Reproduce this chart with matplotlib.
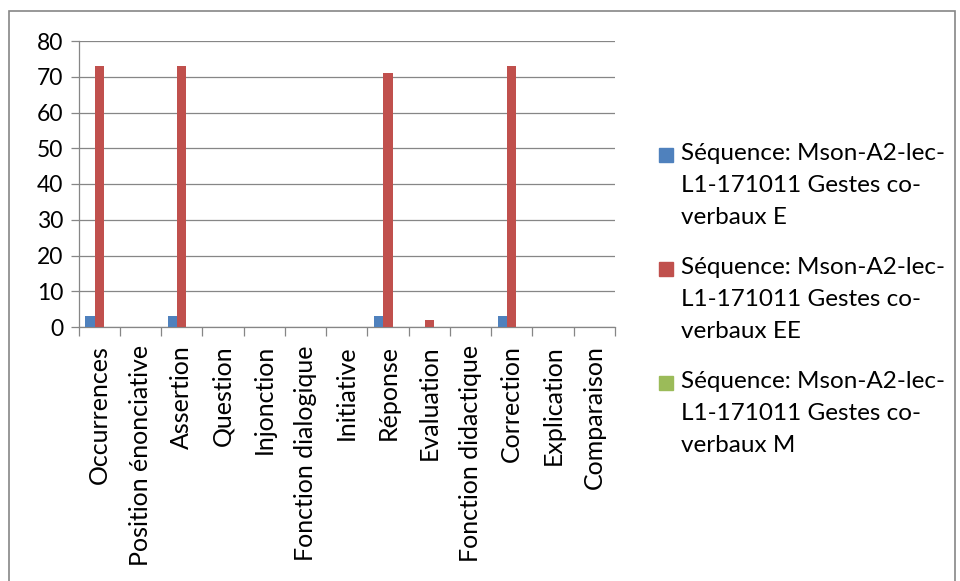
import matplotlib.pyplot as plt
from matplotlib.patches import Rectangle
from matplotlib.ticker import FixedLocator
import numpy as np

plt.rcParams['font.family'] = ['Lato', 'DejaVu Sans']

# Categories and series values
categories = ["Occurrences", "Position énonciative", "Assertion", "Question", "Injonction",
              "Fonction dialogique", "Initiative", "Réponse", "Evaluation",
              "Fonction didactique", "Correction", "Explication", "Comparaison"]
serie_e = [3, 0, 3, 0, 0, 0, 0, 3, 0, 0, 3, 0, 0]
serie_ee = [73, 0, 73, 0, 0, 0, 0, 71, 2, 0, 73, 0, 0]
serie_m = [0, 0, 0, 0, 0, 0, 0, 0, 0, 0, 0, 0, 0]
labels = ["Séquence: Mson-A2-lec-\nL1-171011 Gestes co-\nverbaux E",
          "Séquence: Mson-A2-lec-\nL1-171011 Gestes co-\nverbaux EE",
          "Séquence: Mson-A2-lec-\nL1-171011 Gestes co-\nverbaux M"]
colors = ["#4F81BD", "#C0504D", "#9BBB59"]
grey = "#868686"

W, H = 960, 581
fig = plt.figure(figsize=(W / 100, H / 100), dpi=100)
ax = fig.add_axes([78.5 / W, 1 - 327 / H, (615 - 78.5) / W, (327 - 41) / H])

x = np.arange(len(categories))
bw = 1 / 4.5
for k, vals in enumerate([serie_e, serie_ee, serie_m]):
    ax.bar(x + (k - 1) * bw, vals, width=bw, color=colors[k], linewidth=0, zorder=3)

ax.set_xlim(-0.5, len(categories) - 0.5)
ax.set_ylim(0, 80)
ax.set_yticks(range(0, 81, 10))
ax.yaxis.grid(True, color=grey, linewidth=0.9)
ax.set_axisbelow(True)

ax.set_xticks(x)
ax.set_xticklabels(categories, rotation=90, ha='center', va='top', fontsize=18)
ax.xaxis.set_minor_locator(FixedLocator(np.arange(-0.5, len(categories), 1)))
ax.tick_params(axis='x', which='major', length=0, pad=13)
ax.tick_params(axis='x', which='minor', length=6.5, color=grey, width=0.9)
ax.tick_params(axis='y', length=5.8, color=grey, width=0.9, labelsize=16.5, pad=5)

for s in ['top', 'right']:
    ax.spines[s].set_visible(False)
for s in ['left', 'bottom']:
    ax.spines[s].set_color(grey)
    ax.spines[s].set_linewidth(0.9)

# Legend drawn by hand so the square sits on the first line
for k, lab in enumerate(labels):
    yc = 155 + k * 114
    fig.patches.append(Rectangle((659 / W, 1 - (yc + 7) / H), 14 / W, 14 / H,
                                 transform=fig.transFigure, color=colors[k]))
    fig.text(681 / W, 1 - (yc - 12) / H, lab, fontsize=17.5, va='top', ha='left',
             linespacing=1.65)

# Chart border
fig.patches.append(Rectangle((9 / W, -0.05), (955 - 9) / W, 1 - 11 / H + 0.05,
                             transform=fig.transFigure, fill=False,
                             edgecolor=grey, linewidth=1.2))

fig.savefig("out.png", dpi=100)
